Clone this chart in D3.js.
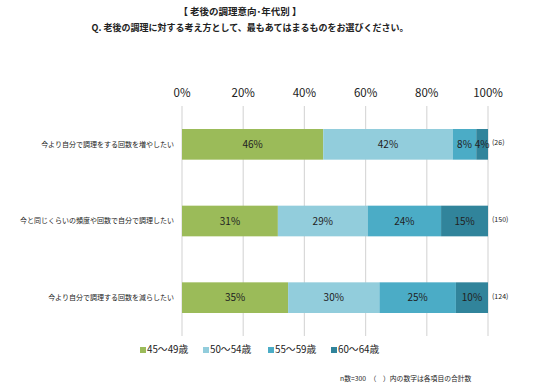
<!DOCTYPE html>
<html>
  <head>
    <meta charset="utf-8">
    <script src="https://d3js.org/d3.v7.min.js"></script>
    <style>
      body { margin: 0; background: #fff; }
      text { font-family: "Noto Sans CJK JP", "Noto Sans", sans-serif; fill: #222; }
    </style>
  </head>
  <body>
    <div id="chart"></div>

    <script>
      // data (counts per age group, per answer)
      const categories = [
        "今より自分で調理をする回数を増やしたい",
        "今と同じくらいの頻度や回数で自分で調理したい",
        "今より自分で調理する回数を減らしたい"
      ];
      const ageGroups = ["45～49歳", "50～54歳", "55～59歳", "60～64歳"];
      const counts = [
        [12, 11, 2, 1],
        [47, 44, 36, 23],
        [43, 37, 31, 13]
      ];
      const tickValues = [0, 0.2, 0.4, 0.6, 0.8, 1];
      const colors = ["#9bbb59", "#92cddc", "#4bacc6", "#31849b"];

      const width = 536;
      const height = 389;
      const margin = { top: 106, right: 48, bottom: 53, left: 182 };

      const svg = d3.select("#chart")
        .append("svg")
        .attr("width", width)
        .attr("height", height);

      // build stacked rows as shares of each total
      const rows = categories.map((c, i) => {
        const total = d3.sum(counts[i]);
        const row = { category: c, total: total };
        ageGroups.forEach((g, j) => row[g] = counts[i][j] / total);
        return row;
      });
      const series = d3.stack().keys(ageGroups)(rows);

      const x = d3.scaleLinear()
        .domain([0, 1])
        .range([margin.left, width - margin.right]);
      const y = d3.scaleBand()
        .domain(categories)
        .range([margin.top, height - margin.bottom])
        .paddingInner(0.6)
        .paddingOuter(0.3);

      // gridlines
      svg.append("g")
        .selectAll("line")
        .data(tickValues)
        .enter()
        .append("line")
        .attr("x1", d => x(d))
        .attr("x2", d => x(d))
        .attr("y1", margin.top)
        .attr("y2", height - margin.bottom)
        .attr("stroke", "#d9d9d9")
        .attr("stroke-width", 1.2);

      // top tick labels
      svg.append("g")
        .selectAll("text")
        .data(tickValues)
        .enter()
        .append("text")
        .attr("x", d => x(d))
        .attr("y", 97)
        .attr("text-anchor", "middle")
        .style("font-size", "11.5px")
        .text(d3.format(".0%"));

      // bars
      const groups = svg.append("g")
        .selectAll("g")
        .data(series)
        .enter()
        .append("g")
        .attr("fill", (d, i) => colors[i]);

      groups.selectAll("rect")
        .data(d => d)
        .enter()
        .append("rect")
        .attr("x", d => x(d[0]))
        .attr("y", d => y(d.data.category))
        .attr("width", d => x(d[1]) - x(d[0]))
        .attr("height", y.bandwidth());

      groups.selectAll("text")
        .data(d => d)
        .enter()
        .append("text")
        .attr("x", d => (x(d[0]) + x(d[1])) / 2)
        .attr("y", d => y(d.data.category) + y.bandwidth() / 2)
        .attr("dy", "0.35em")
        .attr("text-anchor", "middle")
        .style("font-size", "10px")
        .text(d => d3.format(".0%")(d[1] - d[0]));

      // category labels
      svg.append("g")
        .selectAll("text")
        .data(categories)
        .enter()
        .append("text")
        .attr("x", margin.left - 8)
        .attr("y", d => y(d) + y.bandwidth() / 2)
        .attr("dy", "0.35em")
        .attr("text-anchor", "end")
        .style("font-size", "7px")
        .text(d => d);

      // totals on the right
      svg.append("g")
        .selectAll("text")
        .data(rows)
        .enter()
        .append("text")
        .attr("x", x(1) + 4)
        .attr("y", d => y(d.category) + y.bandwidth() / 2)
        .attr("dy", "0.15em")
        .style("font-size", "7px")
        .text(d => "(" + d.total + ")");

      // titles
      svg.append("text")
        .attr("x", 240)
        .attr("y", 15)
        .attr("text-anchor", "middle")
        .style("font-size", "9.5px")
        .style("font-weight", "bold")
        .text("【 老後の調理意向･年代別 】");
      svg.append("text")
        .attr("x", 250)
        .attr("y", 31)
        .attr("text-anchor", "middle")
        .style("font-size", "9px")
        .style("font-weight", "bold")
        .text("Q. 老後の調理に対する考え方として、最もあてはまるものをお選びください。");

      // legend
      const legendX = [140, 203, 268, 331];
      const legend = svg.append("g")
        .selectAll("g")
        .data(ageGroups)
        .enter()
        .append("g")
        .attr("transform", (d, i) => `translate(${legendX[i]}, 350)`);
      legend.append("rect")
        .attr("x", 0)
        .attr("y", -3)
        .attr("width", 6)
        .attr("height", 6)
        .attr("fill", (d, i) => colors[i]);
      legend.append("text")
        .attr("x", 7)
        .attr("dy", "0.35em")
        .style("font-size", "9.8px")
        .text(d => d);

      // footnote
      svg.append("text")
        .attr("x", 340)
        .attr("y", 381)
        .style("font-size", "6.8px")
        .text("n数=300　（　）内の数字は各項目の合計数");
    </script>
  </body>
</html>
